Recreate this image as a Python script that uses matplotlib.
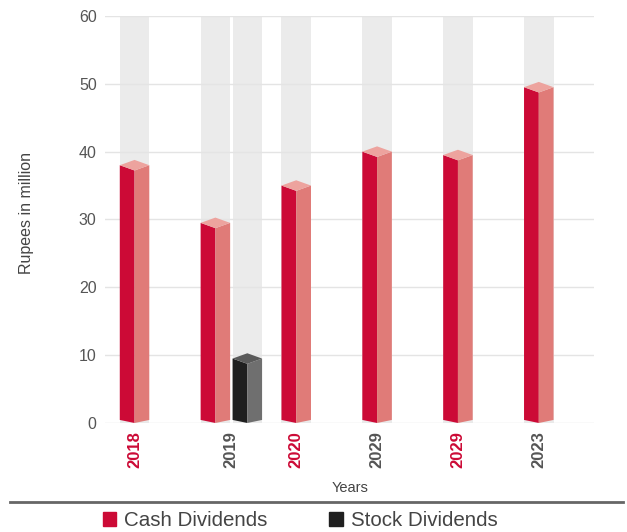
import numpy as np
import matplotlib.pyplot as plt
from matplotlib.patches import Patch
from matplotlib.lines import Line2D

plt.rcParams['font.family'] = ['Liberation Sans', 'DejaVu Sans']

# donnees
years = ['2018', '2019', '2020', '2029', '2029', '2023']
cash = [38.0, 29.5, 35.0, 40.0, 39.5, 49.5]
stock = [0, 9.5, 0, 0, 0, 0]
label_colors = ['#cc0a36', '#555555', '#cc0a36', '#555555', '#cc0a36', '#555555']

# couleurs (face avant, cote, dessus)
cash_cols = ('#cc0a36', '#e07b78', '#eda39e')
stock_cols = ('#1f1f1f', '#6f6f6f', '#5a5a5a')
bg_col = '#ebebeb'
ymax = 60


def barre_3d(ax, xc, v, w, cols):
    x0, xm, x1 = xc - w / 2, xc, xc + w / 2
    d = 0.78
    bc, bm = 0.45, 0.0
    ax.add_patch(plt.Rectangle((x0, 0), w, ymax, color=bg_col, lw=0, zorder=0.5))
    ax.fill([x0, xm, xm, x0], [bc, bm, v - d, v], color=cols[0], lw=0, zorder=3, clip_on=False)
    ax.fill([xm, x1, x1, xm], [bm, bc, v, v - d], color=cols[1], lw=0, zorder=3, clip_on=False)
    ax.fill([x0, xm, x1, xm], [v, v - d, v, v + d], color=cols[2], lw=0, zorder=4, clip_on=False)


fig = plt.figure(figsize=(6.27, 5.32), dpi=100)
ax = fig.add_axes([0.1675, 0.2049, 0.947 - 0.1675, 0.970 - 0.2049])

w = 0.365
off = 0.395
ticks = []
for i in range(len(years)):
    barre_3d(ax, i, cash[i], w, cash_cols)
    if stock[i] > 0:
        barre_3d(ax, i + off, stock[i], w, stock_cols)
        ticks.append(i + off / 2)
    else:
        ticks.append(i)

for y in range(0, ymax + 1, 10):
    ax.axhline(y, color='#e4e4e4', lw=1, zorder=1)

ax.set_xlim(-0.365, 5.68)
ax.set_ylim(0, ymax)
ax.set_yticks(range(0, ymax + 1, 10))
ax.tick_params(axis='y', length=0, pad=6, labelsize=11.5, labelcolor='#555555')
ax.set_xticks(ticks)
ax.set_xticklabels(years, rotation=90, fontsize=12, fontweight='bold')
ax.tick_params(axis='x', length=0, pad=6)
for t, c in zip(ax.get_xticklabels(), label_colors):
    t.set_color(c)
for s in ax.spines.values():
    s.set_visible(False)

ax.set_ylabel('Rupees in million', fontsize=11.5, color='#444444')
ax.yaxis.set_label_coords(-0.145, 0.517)
fig.text(350 / 627, 1 - 488 / 532, 'Years', ha='center', va='center', fontsize=10.5, color='#444444')

fig.add_artist(Line2D([10 / 627, 623 / 627], [1 - 502 / 532] * 2, color='#666666', lw=2))

handles = [Patch(color=cash_cols[0], label='Cash Dividends'),
           Patch(color=stock_cols[0], label='Stock Dividends')]
fig.legend(handles=handles, loc='center', bbox_to_anchor=(300 / 627, 1 - 521 / 532), ncol=2,
           frameon=False, fontsize=14.8, handlelength=0.65, handleheight=0.65, handletextpad=0.4,
           columnspacing=3.0, labelcolor='#444444', borderpad=0)

plt.savefig('out.png', dpi=100)
